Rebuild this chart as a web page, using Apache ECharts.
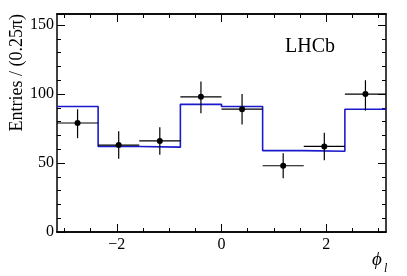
<!DOCTYPE html>
<html>
<head>
<meta charset="utf-8">
<script src="https://cdn.jsdelivr.net/npm/echarts@6/dist/echarts.min.js"></script>
<style>
html,body{margin:0;padding:0;background:#fff}
#main{width:407px;height:276px}
</style>
</head>
<body>
<div id="main"></div>
<script>
// bins of phi_l, width pi/4, from -pi to pi
const binLo = [-4, -3, -2, -1, 0, 1, 2, 3].map(i => i * Math.PI / 4)
const binHi = binLo.map(x => x + Math.PI / 4)
const entries = [79, 63, 66, 98, 89, 48, 62, 100]
const errUp = [89, 73, 76, 109, 100, 57, 72, 110]
const errDown = [68, 53, 56, 86, 78, 39, 52, 88]
const fitValues = [91, 62, 61.5, 92.5, 91, 59, 58.5, 89]
const xMajor = [-2, 0, 2]
const xMinor = [-3, -2.5, -2, -1.5, -1, -0.5, 0, 0.5, 1, 1.5, 2, 2.5, 3]

const font = 'Liberation Serif'
var myChart = echarts.init(document.getElementById('main'))

let fitLine = []
for (let i = 0; i < fitValues.length; i++) {
    fitLine.push([binLo[i], fitValues[i]])
    fitLine.push([binHi[i], fitValues[i]])
}
let points = entries.map((v, i) => [(binLo[i] + binHi[i]) / 2, v, binLo[i], binHi[i], errDown[i], errUp[i]])

function xAxisDef(pos, major, labels) {
    return {
        type: 'value', position: pos, min: -Math.PI, max: Math.PI,
        axisLine: { show: true, onZero: false, lineStyle: { color: '#000', width: 1.5 } },
        axisTick: { show: true, inside: true, length: major ? 8 : 4, customValues: major ? xMajor : xMinor, lineStyle: { color: '#000', width: 1 } },
        axisLabel: { show: labels, customValues: xMajor, margin: 5, color: '#000', fontFamily: font, fontSize: 16,
            formatter: v => String(v).replace('-', '\u2212') },
        splitLine: { show: false }
    }
}
function yAxisDef(pos, labels) {
    return {
        type: 'value', position: pos, min: 0, max: 158, interval: 50,
        axisLine: { show: true, onZero: false, lineStyle: { color: '#000', width: 1.5 } },
        axisTick: { show: true, inside: true, length: 8, lineStyle: { color: '#000', width: 1 } },
        minorTick: { show: true, splitNumber: 5, length: 4, lineStyle: { color: '#000', width: 1 } },
        axisLabel: { show: labels, margin: 3, color: '#000', fontFamily: font, fontSize: 16, showMaxLabel: false },
        splitLine: { show: false }
    }
}

var option = {
    animation: false,
    grid: { left: 57, right: 21, top: 14, bottom: 44 },
    xAxis: [xAxisDef('bottom', true, true), xAxisDef('bottom', false, false), xAxisDef('top', true, false), xAxisDef('top', false, false)],
    yAxis: [yAxisDef('left', true), yAxisDef('right', false)],
    graphic: [
        { type: 'text', x: 17, y: 14, rotation: Math.PI / 2,
          style: { text: 'Entries / (0.25\u03c0)', fontFamily: font, fontSize: 18, fill: '#000', align: 'right', verticalAlign: 'middle' } },
        { type: 'text', x: 285, y: 47,
          style: { text: 'LHCb', fontFamily: font, fontSize: 20, fill: '#000', verticalAlign: 'middle' } },
        { type: 'text', x: 372, y: 260,
          style: { text: '\u03d5', fontFamily: font, fontStyle: 'italic', fontSize: 19, fill: '#000', verticalAlign: 'middle' } },
        { type: 'text', x: 384, y: 269,
          style: { text: 'l', fontFamily: font, fontStyle: 'italic', fontSize: 12, fill: '#000', verticalAlign: 'middle' } }
    ],
    series: [
        {
            type: 'line', data: fitLine, symbol: 'none',
            lineStyle: { color: '#1a1acc', width: 1.6 }, z: 2
        },
        {
            type: 'custom', data: points, z: 3,
            renderItem: function (params, api) {
                let c = api.coord([api.value(0), api.value(1)])
                let l = api.coord([api.value(2), api.value(1)])
                let r = api.coord([api.value(3), api.value(1)])
                let lo = api.coord([api.value(0), api.value(4)])
                let hi = api.coord([api.value(0), api.value(5)])
                let st = { stroke: '#000', lineWidth: 1.2 }
                return {
                    type: 'group', children: [
                        { type: 'line', shape: { x1: l[0], y1: l[1], x2: r[0], y2: r[1] }, style: st },
                        { type: 'line', shape: { x1: lo[0], y1: lo[1], x2: hi[0], y2: hi[1] }, style: st },
                        { type: 'circle', shape: { cx: c[0], cy: c[1], r: 3 }, style: { fill: '#000' } }
                    ]
                }
            }
        }
    ]
}
myChart.setOption(option)
</script>
</body>
</html>
